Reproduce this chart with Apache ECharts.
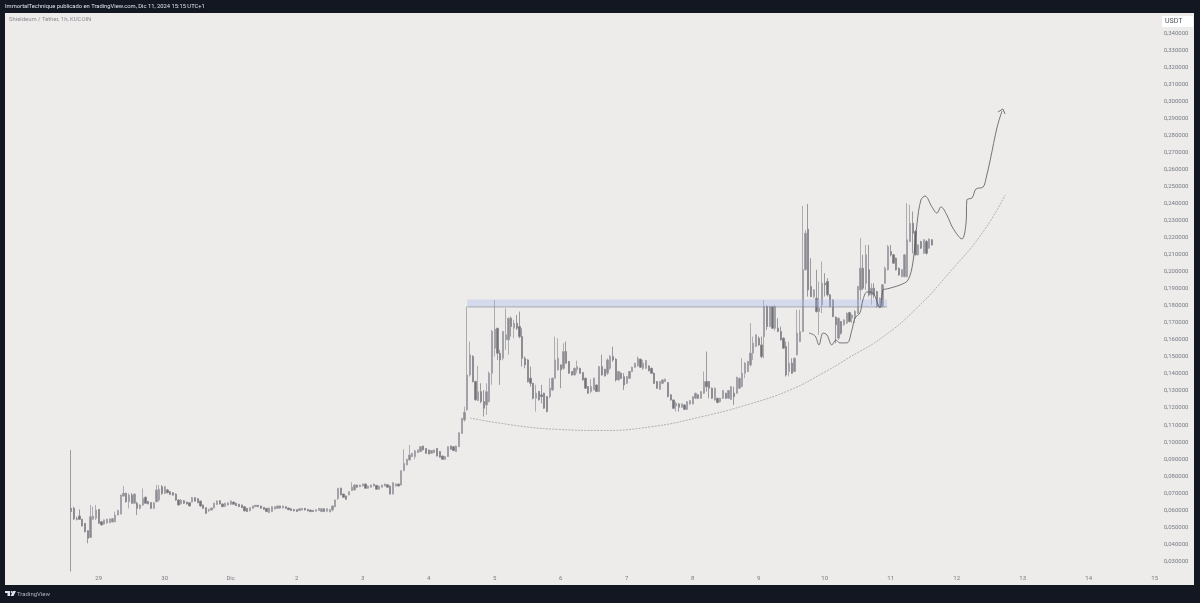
<!DOCTYPE html>
<html><head><meta charset="utf-8">
<style>html,body{margin:0;padding:0;background:#131722}#c{width:1200px;height:603px}</style>
<script src="https://cdn.jsdelivr.net/npm/echarts@6/dist/echarts.min.js"></script>
</head><body><div id="c"></div>
<script>
// Hourly candles [open, close, low, high]; the first one is Nov 28 14:00
const nov28=[[.0611,.0592,.0240,.0953],[.0611,.0549,.0543,.0621],[.0550,.0547,.0540,.0562],[.0566,.0547,.0543,.0605],[.0547,.0508,.0505,.0550],[.0523,.0474,.0470,.0525],[.0480,.0435,.0406,.0482],[.0440,.0562,.0437,.0631],[.0547,.0566,.0543,.0621],[.0553,.0601,.0543,.0631]];
const nov29=[[.0605,.0523,.0520,.0607],[.0533,.0514,.0510,.0535],[.0519,.0543,.0515,.0545],[.0525,.0547,.0523,.0550],[.0527,.0549,.0525,.0551],[.0531,.0551,.0529,.0553],[.0533,.0572,.0529,.0592],[.0572,.0598,.0570,.0603],[.0578,.0689,.0575,.0691],[.0683,.0699,.0680,.0742],[.0699,.0650,.0645,.0703],[.0650,.0689,.0611,.0699],[.0689,.0641,.0638,.0701],[.0641,.0695,.0638,.0699],[.0641,.0611,.0572,.0650],[.0611,.0631,.0605,.0635],[.0631,.0670,.0625,.0728],[.0676,.0641,.0638,.0680],[.0651,.0637,.0635,.0655],[.0645,.0611,.0607,.0647],[.0611,.0644,.0607,.0648],[.0650,.0719,.0648,.0748],[.0660,.0723,.0650,.0748],[.0738,.0699,.0689,.0748]];
const nov30=[[.0699,.0738,.0695,.0742],[.0719,.0703,.0699,.0725],[.0709,.0693,.0689,.0713],[.0703,.0689,.0685,.0707],[.0695,.0660,.0656,.0699],[.0660,.0631,.0627,.0664],[.0637,.0660,.0633,.0664],[.0656,.0641,.0637,.0660],[.0648,.0637,.0633,.0650],[.0644,.0625,.0623,.0646],[.0648,.0674,.0646,.0678],[.0674,.0654,.0650,.0676],[.0668,.0644,.0642,.0670],[.0654,.0625,.0621,.0656],[.0631,.0611,.0607,.0633],[.0615,.0582,.0578,.0617],[.0597,.0605,.0590,.0609],[.0601,.0613,.0599,.0615],[.0613,.0641,.0611,.0644],[.0633,.0654,.0631,.0658],[.0656,.0637,.0635,.0660],[.0637,.0621,.0619,.0639],[.0623,.0641,.0621,.0644],[.0631,.0644,.0629,.0646]];
const dec1=[[.0635,.0654,.0633,.0658],[.0648,.0635,.0633,.0650],[.0641,.0627,.0625,.0644],[.0635,.0621,.0619,.0637],[.0631,.0615,.0613,.0633],[.0621,.0596,.0594,.0623],[.0611,.0592,.0590,.0613],[.0597,.0615,.0594,.0617],[.0611,.0625,.0609,.0627],[.0621,.0629,.0619,.0631],[.0629,.0621,.0619,.0631],[.0625,.0611,.0609,.0627],[.0617,.0605,.0603,.0619],[.0611,.0592,.0590,.0613],[.0586,.0613,.0584,.0615],[.0592,.0621,.0590,.0623],[.0607,.0621,.0605,.0623],[.0611,.0625,.0609,.0627],[.0625,.0613,.0611,.0627],[.0613,.0625,.0611,.0627],[.0621,.0611,.0609,.0623],[.0613,.0603,.0601,.0615],[.0609,.0598,.0596,.0611],[.0605,.0596,.0594,.0607]];
const dec2=[[.0603,.0592,.0590,.0605],[.0598,.0609,.0596,.0611],[.0601,.0611,.0599,.0613],[.0611,.0601,.0599,.0613],[.0605,.0596,.0594,.0607],[.0601,.0592,.0590,.0603],[.0599,.0592,.0590,.0601],[.0594,.0603,.0592,.0605],[.0598,.0611,.0596,.0613],[.0592,.0609,.0590,.0611],[.0609,.0592,.0590,.0611],[.0594,.0609,.0592,.0611],[.0590,.0605,.0588,.0607],[.0602,.0625,.0592,.0627],[.0621,.0660,.0617,.0663],[.0670,.0729,.0660,.0729],[.0729,.0690,.0688,.0733],[.0695,.0676,.0672,.0697],[.0684,.0664,.0660,.0686],[.0690,.0709,.0688,.0711],[.0715,.0735,.0713,.0764],[.0719,.0748,.0717,.0752],[.0748,.0735,.0733,.0750],[.0738,.0748,.0736,.0750]];
const dec3=[[.0742,.0754,.0740,.0756],[.0754,.0729,.0727,.0756],[.0729,.0742,.0727,.0744],[.0735,.0748,.0733,.0750],[.0742,.0754,.0740,.0756],[.0746,.0723,.0721,.0748],[.0723,.0742,.0721,.0744],[.0735,.0748,.0733,.0750],[.0742,.0754,.0740,.0756],[.0750,.0735,.0733,.0752],[.0742,.0695,.0693,.0744],[.0695,.0762,.0693,.0764],[.0742,.0754,.0740,.0756],[.0754,.0742,.0740,.0756],[.0748,.0832,.0746,.0834],[.0832,.0875,.0830,.0957],[.0866,.0899,.0864,.0901],[.0895,.0924,.0893,.0983],[.0915,.0934,.0913,.0936],[.0915,.0948,.0899,.0954],[.0938,.0954,.0936,.0956],[.0944,.0973,.0942,.0975],[.0977,.0954,.0952,.0979],[.0963,.0934,.0932,.0965]];
const dec4=[[.0954,.0930,.0928,.0956],[.0934,.0950,.0932,.0952],[.0938,.0954,.0936,.0956],[.0963,.0918,.0916,.0965],[.0944,.0911,.0909,.0946],[.0918,.0899,.0897,.0920],[.0899,.0915,.0897,.0917],[.0915,.0973,.0913,.0975],[.0977,.0958,.0956,.0979],[.0973,.0950,.0948,.0975],[.0944,.0977,.0942,.0979],[.0973,.1055,.0971,.1057],[.1051,.1139,.1049,.1141],[.1130,.1175,.1120,.1208],[.1189,.1394,.1185,.1795],[.1394,.1512,.1384,.1590],[.1502,.1355,.1350,.1510],[.1355,.1248,.1244,.1360],[.1244,.1296,.1240,.1447],[.1296,.1238,.1228,.1345],[.1238,.1199,.1150,.1306],[.1218,.1296,.1160,.1345],[.1238,.1404,.1232,.1414],[.1404,.1649,.1336,.1658]];
const dec5=[[.1551,.1662,.1502,.1834],[.1668,.1521,.1482,.1670],[.1521,.1482,.1336,.1541],[.1492,.1649,.1480,.1652],[.1600,.1629,.1541,.1785],[.1600,.1727,.1512,.1729],[.1727,.1678,.1619,.1737],[.1668,.1697,.1609,.1717],[.1697,.1668,.1658,.1746],[.1678,.1619,.1609,.1766],[.1619,.1492,.1443,.1668],[.1492,.1453,.1433,.1502],[.1482,.1355,.1350,.1487],[.1375,.1345,.1326,.1443],[.1345,.1257,.1250,.1348],[.1257,.1287,.1179,.1336],[.1297,.1248,.1244,.1300],[.1277,.1267,.1228,.1336],[.1287,.1199,.1195,.1290],[.1267,.1179,.1175,.1270],[.1267,.1316,.1257,.1375],[.1306,.1375,.1300,.1378],[.1375,.1482,.1373,.1619],[.1424,.1492,.1420,.1609]];
const dec6=[[.1453,.1424,.1316,.1456],[.1433,.1531,.1424,.1580],[.1531,.1463,.1460,.1590],[.1473,.1404,.1400,.1476],[.1414,.1394,.1390,.1417],[.1394,.1433,.1390,.1436],[.1424,.1443,.1404,.1478],[.1433,.1404,.1400,.1436],[.1408,.1365,.1360,.1410],[.1375,.1316,.1312,.1378],[.1326,.1287,.1283,.1329],[.1297,.1326,.1287,.1369],[.1306,.1375,.1303,.1378],[.1335,.1297,.1293,.1338],[.1297,.1443,.1293,.1446],[.1443,.1394,.1390,.1512],[.1427,.1388,.1384,.1430],[.1404,.1482,.1394,.1492],[.1433,.1502,.1423,.1511],[.1502,.1482,.1472,.1560],[.1486,.1365,.1355,.1492],[.1365,.1414,.1360,.1418],[.1404,.1374,.1370,.1410],[.1384,.1335,.1306,.1404]];
const dec7=[[.1345,.1384,.1340,.1388],[.1374,.1414,.1370,.1418],[.1414,.1439,.1410,.1443],[.1439,.1462,.1435,.1466],[.1447,.1492,.1443,.1502],[.1486,.1439,.1435,.1490],[.1433,.1462,.1423,.1482],[.1433,.1478,.1430,.1482],[.1447,.1419,.1415,.1450],[.1433,.1404,.1400,.1436],[.1404,.1345,.1340,.1408],[.1355,.1316,.1312,.1358],[.1310,.1355,.1306,.1358],[.1345,.1365,.1340,.1368],[.1355,.1369,.1352,.1372],[.1349,.1267,.1263,.1352],[.1277,.1247,.1243,.1280],[.1247,.1198,.1194,.1250],[.1212,.1228,.1179,.1237],[.1224,.1204,.1179,.1228],[.1204,.1224,.1200,.1228],[.1218,.1192,.1188,.1222],[.1192,.1237,.1188,.1240],[.1224,.1243,.1220,.1247]];
const dec8=[[.1224,.1267,.1220,.1270],[.1257,.1286,.1253,.1290],[.1277,.1257,.1253,.1280],[.1257,.1296,.1253,.1300],[.1286,.1355,.1282,.1414],[.1355,.1325,.1296,.1531],[.1355,.1316,.1257,.1358],[.1316,.1257,.1253,.1320],[.1247,.1316,.1243,.1320],[.1257,.1232,.1228,.1260],[.1237,.1257,.1233,.1260],[.1257,.1302,.1253,.1306],[.1286,.1257,.1253,.1290],[.1257,.1302,.1253,.1306],[.1251,.1325,.1247,.1329],[.1286,.1267,.1218,.1325],[.1286,.1380,.1282,.1384],[.1316,.1374,.1312,.1378],[.1326,.1404,.1322,.1492],[.1404,.1463,.1375,.1470],[.1414,.1473,.1410,.1477],[.1453,.1522,.1443,.1698],[.1522,.1580,.1482,.1619],[.1561,.1629,.1557,.1633]];
const dec9=[[.1609,.1570,.1566,.1620],[.1570,.1502,.1492,.1619],[.1619,.1795,.1492,.1834],[.1795,.1678,.1658,.1805],[.1678,.1795,.1674,.1799],[.1795,.1668,.1664,.1799],[.1668,.1795,.1654,.1805],[.1668,.1649,.1645,.1727],[.1649,.1600,.1596,.1678],[.1610,.1551,.1547,.1614],[.1561,.1394,.1385,.1590],[.1414,.1463,.1385,.1590],[.1463,.1404,.1400,.1492],[.1414,.1492,.1410,.1496],[.1512,.1639,.1508,.1776],[.1590,.1649,.1586,.1776],[.1649,.2011,.1645,.2386],[.2011,.2226,.2007,.2245],[.2249,.1893,.1854,.2398],[.1913,.1854,.1850,.2079],[.1854,.1893,.1844,.1897],[.1844,.1766,.1760,.2011],[.1766,.1786,.1629,.1942],[.1805,.1932,.1756,.2059]];
const dec10=[[.1932,.1923,.1854,.1991],[.1942,.1864,.1854,.1962],[.1864,.1795,.1790,.1868],[.1834,.1737,.1733,.1838],[.1733,.1688,.1580,.1737],[.1610,.1727,.1600,.1731],[.1707,.1639,.1630,.1711],[.1688,.1717,.1684,.1721],[.1698,.1756,.1694,.1760],[.1760,.1707,.1703,.1764],[.1727,.1746,.1700,.1750],[.1727,.1766,.1698,.1776],[.1756,.1913,.1752,.1917],[.1893,.2020,.1834,.2196],[.2020,.1903,.1893,.2099],[.1932,.2099,.1893,.2157],[.2011,.1864,.1854,.2157],[.1864,.1903,.1805,.1932],[.1903,.1864,.1844,.1932],[.1883,.1795,.1790,.1887],[.1795,.1844,.1790,.1848],[.1795,.1923,.1790,.1927],[.1932,.2020,.1928,.2030],[.2011,.2147,.2007,.2157]];
const dec11=[[.2118,.2099,.2089,.2157],[.2099,.2050,.2046,.2103],[.2079,.2011,.2007,.2083],[.2020,.1981,.1977,.2024],[.1971,.2011,.1967,.2015],[.1971,.2099,.1967,.2103],[.1971,.2187,.1967,.2402],[.2177,.2284,.2173,.2392],[.2284,.2226,.2108,.2353],[.2235,.2099,.2095,.2245],[.2099,.2157,.2095,.2161],[.2177,.2138,.2134,.2181],[.2108,.2187,.2104,.2191],[.2177,.2108,.2099,.2187],[.2138,.2191,.2134,.2195],[.2187,.2157,.2153,.2191]];
const firstCandleHour=-10; // hours from Nov 29 00:00

// Day labels of the time axis, one per 24 hours from Nov 29
const dayLabels=['29','30','Dic','2','3','4','5','6','7','8','9','10','11','12','13','14','15'];

// Dotted rounded-bottom arc: [hour, price]
const arcCurve=[[135,.1141],[153.2,.1094],[167.7,.1074],[182.3,.1068],[200.5,.1089],[218.7,.1147],[236.8,.1224],[251.4,.1306],[264.1,.1412],[273.2,.1499],[285.2,.1617],[297.5,.1787],[309.6,.1999],[321.6,.2234],[329.6,.2450]];
// Hand-drawn projection path: [hour, price]
const brushPath=[[258.3,.1640],[260.5,.1623],[261.9,.1570],[263.4,.1640],[264.8,.1629],[266.6,.1570],[268.1,.1599],[269.5,.1582],[272.1,.1582],[273.9,.1658],[275,.1728],[276.8,.1758],[277.9,.1834],[279.4,.1881],[281.5,.1875],[284.1,.1787],[285.2,.1893],[286.7,.1899],[291.4,.1922],[294.3,.1951],[296.1,.2057],[297.6,.2286],[299,.2421],[300.5,.2444],[303,.2380],[304.8,.2344],[306.3,.2380],[308.4,.2333],[310.6,.2256],[313.9,.2192],[315.4,.2286],[315.7,.2421],[317.6,.2433],[319,.2485],[321.6,.2497],[322.7,.2550],[324.2,.2656],[326.7,.2849],[328.5,.2943]];
const arrowHead=[[327,.2937],[328.8,.2955],[329.6,.2925]];
// Resistance zone: [hour, price]
const zoneStart=[134,.1837];
const zoneEnd=[286.7,.1793];
const zoneLine=[[134,.1793],[286.7,.1793]];

const allCandles=[...nov28,...nov29,...nov30,...dec1,...dec2,...dec3,...dec4,...dec5,...dec6,...dec7,...dec8,...dec9,...dec10,...dec11];
const candleData=allCandles.map((c,i)=>[firstCandleHour+i,...c]);

const chart=echarts.init(document.getElementById('c'),null,{width:1200,height:603});
const font='Roboto';
chart.setOption({
  animation:false,
  backgroundColor:'#131722',
  textStyle:{fontFamily:font},
  grid:{left:32.7,right:45.3,top:33.1,bottom:24.6,containLabel:false},
  xAxis:{type:'value',min:-24,max:384,interval:24,
    axisLine:{show:false},axisTick:{show:false},splitLine:{show:false},showMinLabel:false,
    axisLabel:{color:'#787b86',fontSize:6,margin:0,verticalAlign:'middle',
      formatter:v=>dayLabels[v/24]||''}},
  yAxis:{type:'value',position:'right',min:.02,max:.34,interval:.01,scale:true,
    axisLine:{show:false},axisTick:{show:false},splitLine:{show:false},
    axisLabel:{color:'#787b86',fontSize:6,margin:9,align:'left',
      formatter:v=>v<.025?'':v.toFixed(6).replace('.',',')}},
  series:[
    {type:'candlestick',data:candleData,barWidth:1.7,silent:true,z:3,
      itemStyle:{color:'#8c8c92',color0:'#707076',borderColor:'#9c9ca2',borderColor0:'#84848a',borderWidth:.8}},
    {type:'line',data:zoneLine,symbol:'none',silent:true,z:5,lineStyle:{color:'#85858d',width:.6},
      markArea:{silent:true,z:4,itemStyle:{color:'rgba(170,185,240,.36)'},
        data:[[{coord:zoneStart},{coord:zoneEnd}]]}},
    {type:'line',data:arcCurve,symbol:'none',smooth:true,silent:true,z:5,
      lineStyle:{color:'#a0a0a0',width:.8,type:[2,1.2]}},
    {type:'line',data:brushPath,symbol:'none',smooth:.35,silent:true,z:6,
      lineStyle:{color:'#55555b',width:.8}},
    {type:'line',data:arrowHead,symbol:'none',silent:true,z:6,
      lineStyle:{color:'#55555b',width:.8}}
  ],
  graphic:[
    {type:'rect',z:-10,silent:true,shape:{x:5,y:13,width:1189,height:572},style:{fill:'#edecea'}},
    {type:'rect',z:10,silent:true,shape:{x:1162,y:16,width:31,height:11},style:{fill:'#ffffff'}},
    {type:'text',z:11,silent:true,x:1165,y:18,style:{text:'USDT',fill:'#50535e',font:'7px Roboto'}},
    {type:'text',z:11,silent:true,x:5,y:4,style:{text:'ImmortalTechnique publicado en TradingView.com, Dic 11, 2024 15:15 UTC+1',fill:'#e0e3eb',font:'5.8px Roboto'}},
    {type:'text',z:11,silent:true,x:9,y:17,style:{text:'Shieldeum / Tether, 1h, KUCOIN',fill:'#8c8c92',font:'5.9px Roboto'}},
    {type:'text',z:11,silent:true,x:17,y:591,style:{text:'TradingView',fill:'#b2b5be',font:'6px Roboto'}},
    {type:'polygon',z:11,silent:true,shape:{points:[[5,591],[10,591],[10,596],[7.5,596],[7.5,593],[5,593]]},style:{fill:'#e0e3eb'}},
    {type:'circle',z:11,silent:true,shape:{cx:11.6,cy:592,r:1},style:{fill:'#e0e3eb'}},
    {type:'polygon',z:11,silent:true,shape:{points:[[16,591],[13.5,596],[10.5,596],[13,591]]},style:{fill:'#e0e3eb'}}
  ]
});
</script></body></html>
